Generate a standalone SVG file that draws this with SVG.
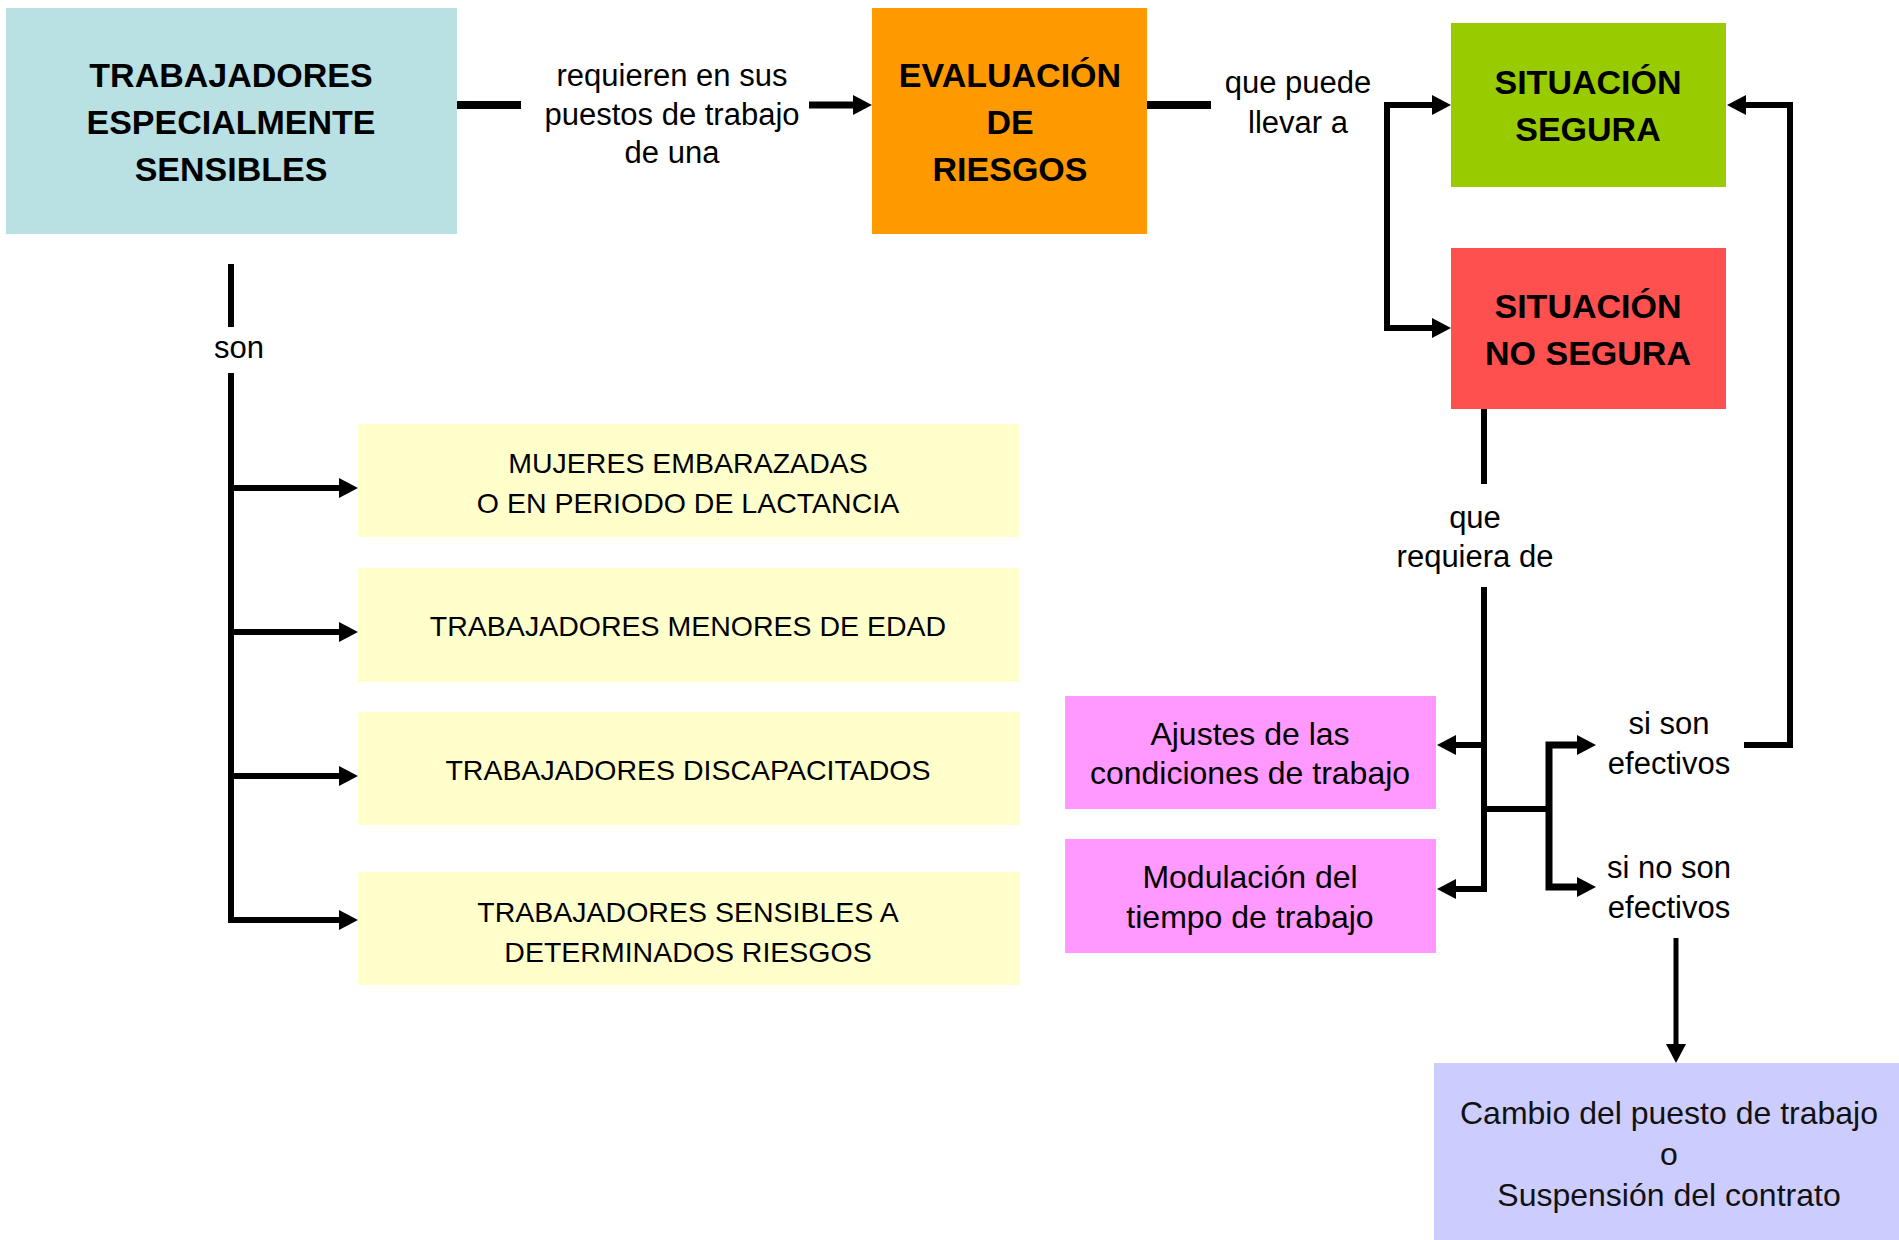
<svg xmlns="http://www.w3.org/2000/svg" width="1899" height="1240" viewBox="0 0 1899 1240">
<style>
.t{font-family:"Liberation Sans",Arial,sans-serif;fill:#000;text-anchor:middle}
.h{font-size:34px;font-weight:bold}
.l{font-size:31px}
.y{font-size:28.5px}
.p{font-size:32px}
.c{fill:none;stroke:#000;stroke-width:6;stroke-linejoin:miter}
.s{fill:none;stroke:#000;stroke-width:8}
</style>
<defs>
<marker id="ah" markerUnits="userSpaceOnUse" markerWidth="19" markerHeight="20" refX="9" refY="10" orient="auto" viewBox="0 0 19 20">
<path d="M0,0 L19,10 L0,20 z" fill="#000"/>
</marker>
</defs>
<rect width="1899" height="1240" fill="#fff"/>

<g id="connectors">
<path class="s" d="M457,105 H521"/>
<path class="c" d="M809,105 H862" marker-end="url(#ah)" style="stroke-width:7"/>
<path class="s" d="M1147,105 H1211"/>
<path class="c" d="M1387,216 V105 H1441" marker-end="url(#ah)"/>
<path class="c" d="M1387,216 V328 H1441" marker-end="url(#ah)"/>
<path class="c" d="M231,264 V327"/>
<path class="c" d="M231,373 V920 H348" marker-end="url(#ah)"/>
<path class="c" d="M231,488 H348" marker-end="url(#ah)"/>
<path class="c" d="M231,632 H348" marker-end="url(#ah)"/>
<path class="c" d="M231,776 H348" marker-end="url(#ah)"/>
<path class="c" d="M1484,409 V484"/>
<path class="c" d="M1484,587 V889 H1447" marker-end="url(#ah)"/>
<path class="c" d="M1484,745 H1447" marker-end="url(#ah)"/>
<path class="c" d="M1484,809 H1549"/>
<path class="c" d="M1549,809 V745 H1586" marker-end="url(#ah)" style="stroke-width:7"/>
<path class="c" d="M1549,809 V887 H1586" marker-end="url(#ah)" style="stroke-width:7"/>
<path class="c" d="M1744,745 H1790 V105 H1737" marker-end="url(#ah)"/>
<path class="c" d="M1676,938 V1053" marker-end="url(#ah)" style="stroke-width:5"/>
</g>

<g id="labels">
<text class="t l" x="672" y="86">requieren en sus</text>
<text class="t l" x="672" y="125">puestos de trabajo</text>
<text class="t l" x="672" y="163">de una</text>
<text class="t l" x="1298" y="93">que puede</text>
<text class="t l" x="1298" y="133">llevar a</text>
<text class="t l" x="239" y="358">son</text>
<text class="t l" x="1475" y="528">que</text>
<text class="t l" x="1475" y="567">requiera de</text>
<text class="t l" x="1669" y="734">si son</text>
<text class="t l" x="1669" y="774">efectivos</text>
<text class="t l" x="1669" y="878">si no son</text>
<text class="t l" x="1669" y="918">efectivos</text>
</g>

<g id="n-trabajadores">
<rect x="6" y="8" width="451" height="226" fill="#b9e0e3"/>
<text class="t h" x="231" y="87">TRABAJADORES</text>
<text class="t h" x="231" y="134">ESPECIALMENTE</text>
<text class="t h" x="231" y="181">SENSIBLES</text>
</g>

<g id="n-evaluacion">
<rect x="872" y="8" width="275" height="226" fill="#ff9900"/>
<text class="t h" x="1010" y="87">EVALUACIÓN</text>
<text class="t h" x="1010" y="134">DE</text>
<text class="t h" x="1010" y="181">RIESGOS</text>
</g>

<g id="n-segura">
<rect x="1451" y="23" width="275" height="164" fill="#99cc00"/>
<text class="t h" x="1588" y="94">SITUACIÓN</text>
<text class="t h" x="1588" y="141">SEGURA</text>
</g>

<g id="n-nosegura">
<rect x="1451" y="248" width="275" height="161" fill="#ff5050"/>
<text class="t h" x="1588" y="318">SITUACIÓN</text>
<text class="t h" x="1588" y="365">NO SEGURA</text>
</g>

<g id="n-mujeres">
<rect x="358" y="424" width="661" height="113" fill="#ffffcc"/>
<text class="t y" x="688" y="473">MUJERES EMBARAZADAS</text>
<text class="t y" x="688" y="513">O EN PERIODO DE LACTANCIA</text>
</g>

<g id="n-menores">
<rect x="358" y="568" width="661" height="114" fill="#ffffcc"/>
<text class="t y" x="688" y="636">TRABAJADORES MENORES DE EDAD</text>
</g>

<g id="n-discapacitados">
<rect x="358" y="712" width="662" height="113" fill="#ffffcc"/>
<text class="t y" x="688" y="780">TRABAJADORES DISCAPACITADOS</text>
</g>

<g id="n-riesgos">
<rect x="358" y="872" width="662" height="113" fill="#ffffcc"/>
<text class="t y" x="688" y="922">TRABAJADORES SENSIBLES A</text>
<text class="t y" x="688" y="962">DETERMINADOS RIESGOS</text>
</g>

<g id="n-ajustes">
<rect x="1065" y="696" width="371" height="113" fill="#ff99ff"/>
<text class="t p" x="1250" y="745">Ajustes de las</text>
<text class="t p" x="1250" y="784">condiciones de trabajo</text>
</g>

<g id="n-modulacion">
<rect x="1065" y="839" width="371" height="114" fill="#ff99ff"/>
<text class="t p" x="1250" y="888">Modulación del</text>
<text class="t p" x="1250" y="928">tiempo de trabajo</text>
</g>

<g id="n-cambio">
<rect x="1434" y="1063" width="465" height="177" fill="#ccccff"/>
<text class="t p" x="1669" y="1124" style="fill:#111">Cambio del puesto de trabajo</text>
<text class="t p" x="1669" y="1165" style="fill:#111">o</text>
<text class="t p" x="1669" y="1206" style="fill:#111">Suspensión del contrato</text>
</g>
</svg>
